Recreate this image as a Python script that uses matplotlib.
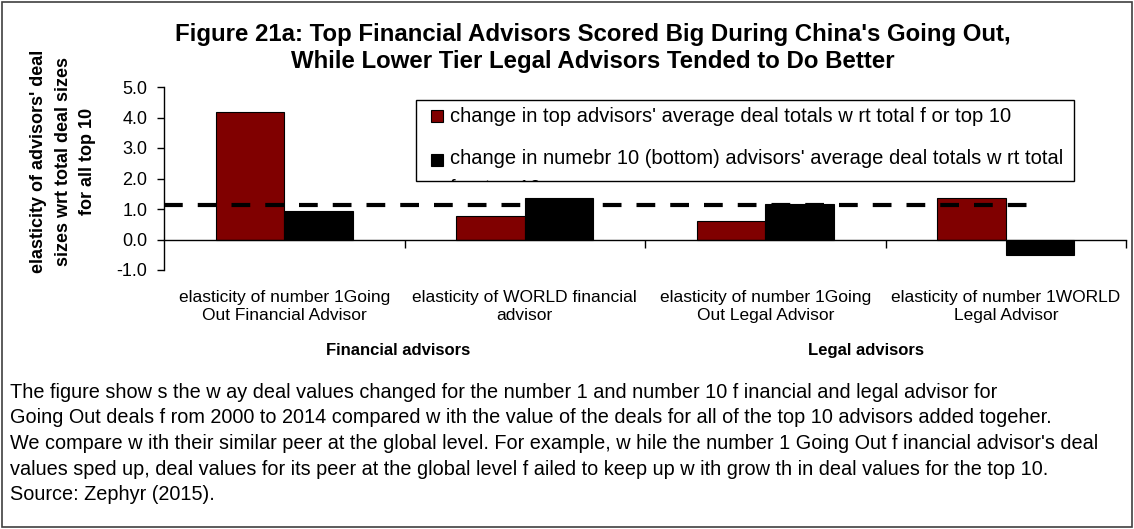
import matplotlib
matplotlib.use("Agg")
import matplotlib.pyplot as plt
from matplotlib.patches import Rectangle

plt.rcParams['font.family'] = ['Liberation Sans', 'DejaVu Sans']

# data
categories = ["elasticity of number 1Going\nOut Financial Advisor",
              "elasticity of WORLD financial\nadvisor",
              "elasticity of number 1Going\nOut Legal Advisor",
              "elasticity of number 1WORLD\nLegal Advisor"]
groups = ["Financial advisors", "Legal advisors"]
top_vals = [4.19, 0.78, 0.61, 1.35]
bottom_vals = [0.92, 1.36, 1.16, -0.52]
benchmark = 1.12
series_names = ["change in top advisors' average deal totals w rt total f or top 10",
                "change in numebr 10 (bottom) advisors' average deal totals w rt total\nf or top 10"]
yticks = [-1.0, 0.0, 1.0, 2.0, 3.0, 4.0, 5.0]

title = ("Figure 21a: Top Financial Advisors Scored Big During China's Going Out,\n"
         "While Lower Tier Legal Advisors Tended to Do Better")
ylabel = "elasticity of advisors' deal\nsizes wrt total deal sizes\nfor all top 10"
notes = ["The figure show s the w ay deal values changed for the number 1 and number 10 f inancial and legal advisor for",
         "Going Out deals f rom 2000 to 2014 compared w ith the value of the deals for all of the top 10 advisors added togeher.",
         "We compare w ith their similar peer at the global level. For example, w hile the number 1 Going Out f inancial advisor's deal",
         "values sped up, deal values for its peer at the global level f ailed to keep up w ith grow th in deal values for the top 10.",
         "Source: Zephyr (2015)."]

W, H = 1134, 529
fig = plt.figure(figsize=(W / 100, H / 100), dpi=100)

# outer frame
fig.patches.append(Rectangle((0.002, 0.003), 0.996, 0.994, transform=fig.transFigure,
                             fill=False, edgecolor='#404040', linewidth=1.2))

ax = fig.add_axes([164 / W, 1 - 270 / H, 962 / W, 183 / H])

bw = 0.285
x = list(range(len(categories)))
ax.bar([i - bw / 2 for i in x], top_vals, width=bw, color='#800000',
       edgecolor='black', linewidth=0.8, zorder=2)
ax.bar([i + bw / 2 for i in x], bottom_vals, width=bw, color='black',
       edgecolor='black', linewidth=0.8, zorder=2)
ax.hlines(benchmark, -0.5, 3.14, colors='black', linewidth=3,
          linestyles=(0, (4.5, 3.6)), zorder=3)

ax.set_xlim(-0.5, 3.5)
ax.set_ylim(-1, 5)
ax.set_yticks(yticks)
ax.set_yticklabels([f"{v:.1f}" for v in yticks], fontsize=13)
ax.tick_params(axis='y', direction='out', length=5, width=1, pad=7)

for s in ['top', 'right']:
    ax.spines[s].set_visible(False)
ax.spines['bottom'].set_position(('data', 0))
ax.spines['left'].set_linewidth(1)
ax.spines['bottom'].set_linewidth(1)
ax.set_xticks([0.5, 1.5, 2.5, 3.5])
ax.set_xticklabels([])
ax.tick_params(axis='x', direction='out', length=6, width=1)

tr = ax.get_xaxis_transform()
for i, lab in enumerate(categories):
    ax.text(i, -0.2, lab, transform=tr, ha='center', va='center',
            fontsize=12.5, linespacing=1.27)
for g, gx in zip(groups, [0.475, 2.42]):
    ax.text(gx, -0.44, g, transform=tr, ha='center', va='center',
            fontsize=12, fontweight='bold')

fig.text(63 / W, 1 - 161 / H, ylabel, rotation=90, ha='center', va='center',
         fontsize=13, fontweight='bold', linespacing=1.6, multialignment='center')
fig.text(593 / W, 1 - 48 / H, title, ha='center', va='center',
         fontsize=17.3, fontweight='bold', linespacing=1.27)

# legend drawn by hand so the wrapped second entry gets cut by the box
lx0, ly0, lx1, ly1 = 416, 100, 1074, 181
box = Rectangle((lx0 / W, 1 - ly1 / H), (lx1 - lx0) / W, (ly1 - ly0) / H,
                transform=fig.transFigure, facecolor='white', edgecolor='black',
                linewidth=1, zorder=5)
fig.patches.append(box)
for k, (name, col, yc) in enumerate(zip(series_names, ['#800000', 'black'], [116, 160])):
    fig.patches.append(Rectangle((431 / W, 1 - (yc + 6) / H), 12 / W, 12 / H,
                                 transform=fig.transFigure, facecolor=col,
                                 edgecolor='black', linewidth=0.8, zorder=6))
    if k:
        t = fig.text(450 / W, 1 - (yc - 11) / H, name, ha='left', va='top',
                     fontsize=14.5, linespacing=1.7, zorder=6)
    else:
        t = fig.text(450 / W, 1 - yc / H, name, ha='left', va='center',
                     fontsize=14.5, zorder=6)
    t.set_clip_path(box)

for n, line in enumerate(notes):
    fig.text(10 / W, 1 - (392 + 25.7 * n) / H, line, ha='left', va='center', fontsize=14.3)

fig.savefig("out.png", dpi=100)
